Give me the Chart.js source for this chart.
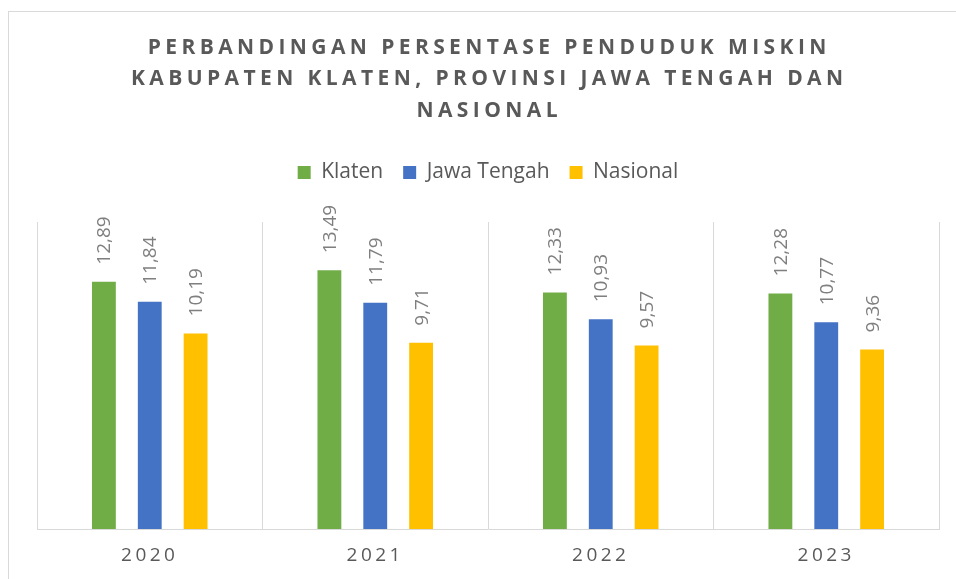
<!DOCTYPE html>
<html>
<head>
<meta charset="utf-8">
<script src="https://cdn.jsdelivr.net/npm/chart.js@4"></script>
<style>
  html, body { margin: 0; padding: 0; background: #fff; }
  #wrap { width: 956px; height: 579px; position: relative; }
</style>
</head>
<body>
<div id="wrap"><canvas id="chart"></canvas></div>
<script>
// Data
const years = ['2020', '2021', '2022', '2023'];
const klaten = [12.89, 13.49, 12.33, 12.28];
const jawaTengah = [11.84, 11.79, 10.93, 10.77];
const nasional = [10.19, 9.71, 9.57, 9.36];
const titleLines = [
    'PERBANDINGAN PERSENTASE PENDUDUK MISKIN',
    'KABUPATEN KLATEN, PROVINSI JAWA TENGAH DAN',
    'NASIONAL'
];

const TEXT_COLOR = '#595959';
const LABEL_COLOR = '#7f7f7f';
const FONT = '"Open Sans", sans-serif';

// Frame + title, drawn with letter spacing
const framePlugin = {
    id: 'frame',
    beforeDraw(chart) {
        const ctx = chart.ctx;
        ctx.save();
        ctx.strokeStyle = '#d9d9d9';
        ctx.lineWidth = 1;
        ctx.strokeRect(8.5, 11.5, 1000, 1000);
        ctx.restore();
    },
    afterDraw(chart) {
        const ctx = chart.ctx;
        ctx.save();
        ctx.fillStyle = TEXT_COLOR;
        ctx.font = 'bold 21px ' + FONT;
        ctx.letterSpacing = '4.4px';
        ctx.textAlign = 'center';
        ctx.textBaseline = 'middle';
        titleLines.forEach((line, i) => {
            // letterSpacing adds trailing space, shift by half of it
            ctx.fillText(line, 487 + 2.2, 48 + i * 31.5);
        });
        ctx.restore();
    }
};

// Category labels under axis (letter spaced)
const xLabelPlugin = {
    id: 'xLabels',
    afterDraw(chart) {
        const ctx = chart.ctx;
        const x = chart.scales.x;
        ctx.save();
        ctx.fillStyle = TEXT_COLOR;
        ctx.font = '19px ' + FONT;
        ctx.letterSpacing = '3.5px';
        ctx.textAlign = 'center';
        ctx.textBaseline = 'middle';
        years.forEach((y, i) => {
            ctx.fillText(y, x.getPixelForValue(i), chart.chartArea.bottom + 27);
        });
        ctx.restore();
    }
};

// Rotated value labels above bars
const valueLabelPlugin = {
    id: 'valueLabels',
    afterDatasetsDraw(chart) {
        const ctx = chart.ctx;
        ctx.save();
        ctx.fillStyle = LABEL_COLOR;
        ctx.font = '19px ' + FONT;
        ctx.textAlign = 'left';
        ctx.textBaseline = 'middle';
        chart.data.datasets.forEach((ds, di) => {
            const meta = chart.getDatasetMeta(di);
            meta.data.forEach((bar, i) => {
                ctx.save();
                ctx.translate(bar.x, bar.y - 17);
                ctx.rotate(-Math.PI / 2);
                ctx.fillText(ds.data[i].toFixed(2).replace('.', ','), 0, 1);
                ctx.restore();
            });
        });
        ctx.restore();
    }
};

// Fix legend height so the plot area starts where it should
const legendFitPlugin = {
    id: 'legendFit',
    beforeInit(chart) {
        const legend = chart.legend;
        const origFit = legend.fit;
        legend.fit = function () {
            origFit.call(this);
            this.height = 80;
        };
    }
};

const ctx = document.getElementById('chart').getContext('2d');
new Chart(ctx, {
    type: 'bar',
    data: {
        labels: years,
        datasets: [
            { label: 'Klaten', data: klaten, backgroundColor: '#70ad47' },
            { label: 'Jawa Tengah', data: jawaTengah, backgroundColor: '#4472c4' },
            { label: 'Nasional', data: nasional, backgroundColor: '#ffc000' }
        ]
    },
    options: {
        responsive: true,
        maintainAspectRatio: false,
        animation: false,
        layout: {
            padding: { top: 142, left: 37, right: 17, bottom: 50 }
        },
        datasets: {
            bar: {
                categoryPercentage: 0.61,
                barPercentage: 0.52
            }
        },
        scales: {
            x: {
                offset: true,
                grid: {
                    offset: true,
                    color: '#d9d9d9',
                    lineWidth: 1,
                    drawTicks: false
                },
                border: { color: '#d9d9d9', width: 1 },
                ticks: { display: false }
            },
            y: {
                display: false,
                min: 0,
                max: 16
            }
        },
        plugins: {
            title: { display: false },
            tooltip: { enabled: false },
            legend: {
                position: 'top',
                align: 'center',
                labels: {
                    color: TEXT_COLOR,
                    font: { family: FONT, size: 21 },
                    boxWidth: 13,
                    boxHeight: 13,
                    padding: 20
                }
            }
        }
    },
    plugins: [legendFitPlugin, framePlugin, xLabelPlugin, valueLabelPlugin]
});
</script>
</body>
</html>
